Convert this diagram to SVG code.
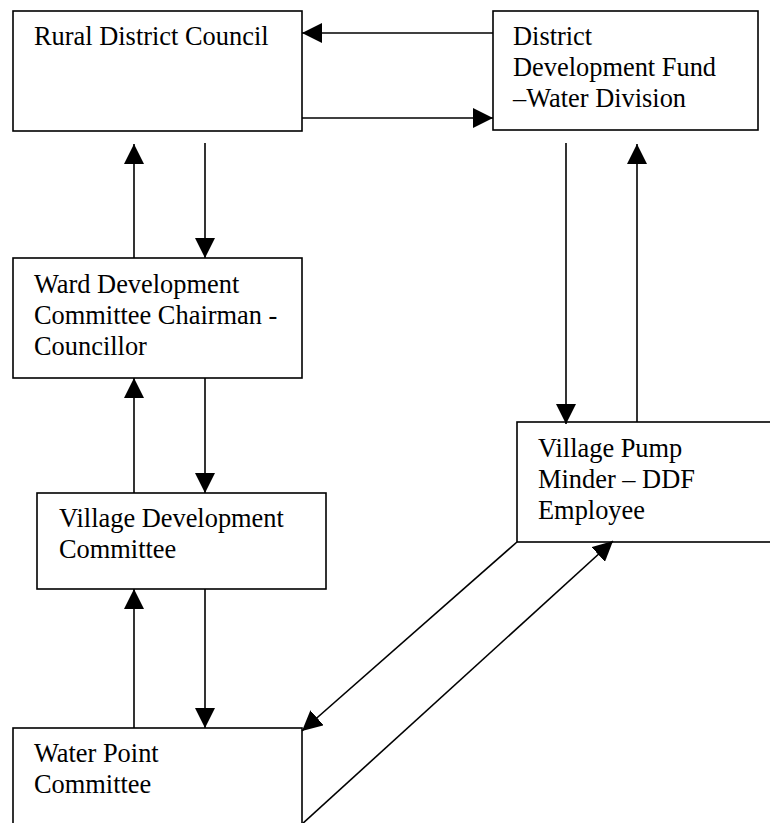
<svg xmlns="http://www.w3.org/2000/svg" width="770" height="823" viewBox="0 0 770 823">
<style>
.box{fill:#fff;stroke:#000;stroke-width:1.6}
.lbl{font-family:"Liberation Serif","Times New Roman",serif;font-size:26.4px;fill:#000}
.con{stroke:#000;stroke-width:1.6;fill:none;marker-end:url(#ah)}
</style>
<defs>
<marker id="ah" markerUnits="userSpaceOnUse" markerWidth="20" markerHeight="20" refX="20" refY="10" orient="auto">
<path d="M0,0 L20,10 L0,20 z" fill="#000"/>
</marker>
</defs>
<rect width="770" height="823" fill="#fff"/>
<g id="rdc">
<rect class="box" x="13" y="11" width="289" height="120"/>
<text class="lbl" x="34" y="45">Rural District Council</text>
</g>
<g id="ddf">
<rect class="box" x="493" y="11" width="265" height="119"/>
<text class="lbl" x="513" y="45">District</text>
<text class="lbl" x="513" y="76">Development Fund</text>
<text class="lbl" x="513" y="107">–Water Division</text>
</g>
<g id="ward">
<rect class="box" x="13" y="258" width="289" height="120"/>
<text class="lbl" x="34" y="293">Ward Development</text>
<text class="lbl" x="34" y="324">Committee Chairman -</text>
<text class="lbl" x="34" y="355">Councillor</text>
</g>
<g id="vdc">
<rect class="box" x="37" y="493" width="289" height="96"/>
<text class="lbl" x="59" y="527">Village Development</text>
<text class="lbl" x="59" y="558">Committee</text>
</g>
<g id="pump">
<rect class="box" x="517" y="422" width="262" height="120"/>
<text class="lbl" x="538" y="457">Village Pump</text>
<text class="lbl" x="538" y="488">Minder – DDF</text>
<text class="lbl" x="538" y="519">Employee</text>
</g>
<g id="wpc">
<rect class="box" x="13" y="728" width="289" height="110"/>
<text class="lbl" x="34" y="762">Water Point</text>
<text class="lbl" x="34" y="793">Committee</text>
</g>
<g id="connectors">
<line class="con" x1="493" y1="33" x2="302" y2="33"/>
<line class="con" x1="302" y1="118" x2="493" y2="118"/>
<line class="con" x1="134" y1="258" x2="134" y2="144"/>
<line class="con" x1="205" y1="143" x2="205" y2="258"/>
<line class="con" x1="134" y1="493" x2="134" y2="378"/>
<line class="con" x1="205" y1="378" x2="205" y2="493"/>
<line class="con" x1="134" y1="728" x2="134" y2="589"/>
<line class="con" x1="205" y1="589" x2="205" y2="728"/>
<line class="con" x1="566" y1="143" x2="566" y2="424"/>
<line class="con" x1="637" y1="422" x2="637" y2="144"/>
<line class="con" x1="517" y1="542" x2="302" y2="731"/>
<line class="con" x1="301" y1="825" x2="613" y2="541"/>
</g>
</svg>
